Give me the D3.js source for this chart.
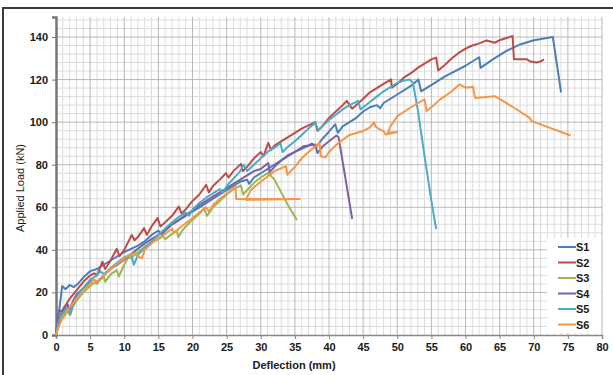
<!DOCTYPE html>
<html>
<head>
<meta charset="utf-8">
<script src="https://cdn.jsdelivr.net/npm/d3@7"></script>
<style>
  body { margin: 0; background: #fff; }
  svg { display: block; font-family: "Liberation Sans", Arial, sans-serif; }
</style>
</head>
<body>
<div id="chart"></div>
<script>
// load vs deflection readings, [deflection mm, load kN]
var s1 = [[0,0],[0.3,8],[0.6,15],[0.9,23],[1.4,21.5],[2,23.5],[2.6,22.5],[3.2,24],[4,27],[5,30],[6,31],[7,33],[8,35],[9,37],[10,39],[11,40.5],[12,42],[13,44],[14,47],[15,49],[15.5,47],[16,49],[17,52],[18,54],[19,56],[20,58],[21,60],[22,62],[23,64],[24,66],[25,68],[26,70],[27,72],[28,73],[28.3,71],[29,74],[30,76],[31,78],[32,80],[33,82],[34,84],[35,86],[36,87.5],[37,89],[37.5,90],[38,88],[39,92],[40,95.5],[40.9,99],[41.3,95],[42,98],[44,102],[45,105],[46,107],[47,108],[47.5,106.5],[48,109],[50,113],[52,117],[53.1,120],[53.5,114.5],[54.5,116.5],[57,121.5],[60,126.5],[62,130.5],[62.2,125.5],[64,129.5],[66,133.5],[68,136.5],[70,138.5],[72.8,140],[74,114]];
var s2 = [[0,0],[0.4,7],[1,12],[2,17],[3,21],[4,25],[5,28],[5.6,29],[6,28],[6.5,32],[6.8,34.5],[7.2,31],[8,35],[8.9,40.5],[9.3,37],[10,40],[11.1,47],[11.5,44.5],[12,46],[12.9,50.2],[13.3,47],[14,51],[14.9,55],[15.3,51],[16,53],[17,56],[18,60.4],[18.4,57],[19,59],[20,63],[21,66],[22,70.6],[22.4,67],[23,70],[24,73],[24.9,76],[25.3,74],[26,77],[27.1,80.4],[27.4,77],[28,79],[29,83],[30,86],[30.4,84],[31.1,90.3],[31.5,87],[32,89],[33,91],[34,93],[35,95],[36,97],[37,98.5],[38,100],[38.3,96],[39,98],[40,102],[41,105],[42,108],[42.6,110],[43.4,106.3],[44,108],[45,111],[46,114],[47,116],[48,118],[49.1,120.1],[49.2,116.2],[50,118],[51,121],[52,123],[53,125.5],[54,127.5],[55,129.5],[55.7,130.3],[56,124.3],[57,127],[58,130],[59,132.5],[60,134.5],[61,136],[62,137],[63.1,138.4],[64.3,137.3],[65,138.5],[66,139.5],[66.9,140.5],[67.1,129.5],[68,129.5],[69,129.5],[69.5,128.5],[70.4,128],[71,128.5],[71.5,129.5]];
var s3 = [[0,0],[0.3,4],[0.8,8],[1.3,10],[1.8,12],[2,9.5],[2.4,13],[3,16],[4,20],[5,23],[5.6,24.5],[6,24],[6.5,26],[7,27.5],[7.2,25],[8,28.5],[8.9,30.5],[9.2,27.5],[10,33],[10.6,36.5],[11,36],[12,39],[13,41.5],[14,43.5],[15,45],[15.7,46.5],[16,45],[17,47.5],[17.7,49],[17.9,46],[18.5,49],[19,51],[20,54],[21,57],[21.7,59.5],[22.1,56],[22.6,58],[23,60],[24,63],[25,66],[26,68.5],[27.1,70.3],[27.4,66],[28,68],[29,71.5],[30,74],[31.1,76.2],[32,73],[33,67],[34,61],[35.3,54]];
var s4 = [[0,0],[0.2,8],[0.5,11.5],[1,11],[1.4,12.5],[1.7,14.5],[2,12],[2.5,16],[3,19],[4,22],[5,25],[5.5,26],[6,25],[7,28],[8,31],[9,33],[10,35.5],[11,38],[12,40.5],[13,43],[14,45],[15,47],[16,49.5],[17,52],[18,54],[19,56.5],[20,58.5],[21,61],[22,63],[23,65],[24,67],[25,69],[26,71],[27,73],[28,75],[29,77],[30,78],[31.1,80.8],[31.3,76.5],[32,79],[33,82],[34,84.5],[35,86],[36.3,88.7],[37,89],[38,89.5],[38.3,85.5],[39.1,88.7],[40,91],[41.1,93.7],[41.4,93],[43.4,54.5]];
var s5 = [[0,0],[0.3,5],[0.7,9],[1.2,11],[1.6,13],[2.1,9.5],[2.5,14],[3,18],[4,22],[5,26],[6,28],[6.5,30],[7,28.5],[8,31.5],[9,34],[10,36.5],[11,38],[11.4,33],[12,37.5],[13,41],[14,44],[15,47],[16,50],[17,53],[18,55.5],[19,57.5],[19.5,56],[20,59],[21,62],[22,64.5],[23,66.5],[24,68.5],[24.5,67],[25,70],[26,73.5],[27,77],[27.5,80],[28,77],[29,80],[30,83],[31,86],[32,88],[32.9,90],[33.2,86],[34,88.5],[35,91],[36,94],[37,97],[38,99.7],[38.4,96],[39,98],[40,101],[41,103.5],[42,106],[43,108],[44.3,110],[44.6,106],[45,107],[46,109.5],[47,112],[48,114.5],[49,116.5],[50,118.5],[51,119.5],[51.8,120],[52.3,118.5],[53,106],[54,84],[55,63],[55.7,49.8]];
var s6 = [[0,0],[0.3,3],[0.8,7],[1.5,10],[2,13],[2.5,15],[3,17],[4,20.5],[5,24],[5.5,26],[6,25],[7,28],[8,31],[9,33.5],[10,36],[11,38],[11.6,38.5],[12,37],[12.6,36],[13,40],[14,43],[15,45.5],[16,47.5],[17,50],[17.3,48],[18,50],[19,52.5],[20,55],[21,57.5],[22,60],[22.4,58],[23,61],[24,64],[25,66.5],[26.3,69.8],[26.4,63.9],[35.7,63.9],[27.8,63.5],[28.6,68.3],[30,72],[31,74.5],[32,77],[33.7,79.3],[33.9,75.3],[35,79],[36,83],[37,86],[38.6,90.3],[38.8,84],[39.5,83.5],[40,86],[41.4,90.3],[43,94],[44.9,95.7],[46,97.5],[46.6,100],[46.8,98],[47.5,96.5],[48,95.7],[48.3,94.2],[50,95.4],[48.6,95],[49,98],[50,102.8],[52,107],[54,110.7],[54.3,105.2],[55,107],[56.3,110.7],[58,114.5],[59.1,117.7],[60,116.2],[61.1,116.6],[61.4,111.4],[64.3,112.2],[67,107],[69.4,102],[69.7,100.5],[75.4,93.7]];

var seriesNames = ["S1", "S2", "S3", "S4", "S5", "S6"];
var seriesData = [s1, s2, s3, s4, s5, s6];
var colors = ["#4a7ebb", "#be4b48", "#98b954", "#7d60a0", "#4bacc6", "#f79646"];
var xTicks = [0, 5, 10, 15, 20, 25, 30, 35, 40, 45, 50, 55, 60, 65, 70, 75, 80];
var yTicks = [0, 20, 40, 60, 80, 100, 120, 140];

var w = 613, h = 375;
var padLeft = 56, padRight = 602, padTop = 17, padBottom = 335;

var xScale = d3.scaleLinear().domain([0, 80]).range([padLeft, padRight]);
var yScale = d3.scaleLinear().domain([0, 149.4]).range([padBottom, padTop]);

var svg = d3.select("#chart").append("svg")
            .attr("width", w)
            .attr("height", h);

svg.append("rect").attr("width", w).attr("height", h).attr("fill", "#fff");

// outer frame, runs off the right and bottom edge
svg.append("rect")
   .attr("x", 3).attr("y", 8)
   .attr("width", w + 10).attr("height", h + 10)
   .attr("fill", "none")
   .attr("stroke", "#3a3a3a")
   .attr("stroke-width", 2);

// minor grid
var grid = svg.append("g");
grid.selectAll("line.vmin")
    .data(d3.range(1, 81, 1).filter(function(d) { return d % 5 != 0; }))
    .enter().append("line")
    .attr("x1", function(d) { return xScale(d); })
    .attr("x2", function(d) { return xScale(d); })
    .attr("y1", padTop).attr("y2", padBottom)
    .attr("stroke", "#dcdcdc").attr("stroke-width", 1);
grid.selectAll("line.hmin")
    .data(d3.range(4, 150, 4).filter(function(d) { return d % 20 != 0; }))
    .enter().append("line")
    .attr("y1", function(d) { return yScale(d); })
    .attr("y2", function(d) { return yScale(d); })
    .attr("x1", padLeft).attr("x2", padRight)
    .attr("stroke", "#dcdcdc").attr("stroke-width", 1);

// major grid
grid.selectAll("line.vmaj")
    .data(xTicks.slice(1))
    .enter().append("line")
    .attr("x1", function(d) { return xScale(d); })
    .attr("x2", function(d) { return xScale(d); })
    .attr("y1", padTop).attr("y2", padBottom)
    .attr("stroke", "#b8b8b8").attr("stroke-width", 1);
grid.selectAll("line.hmaj")
    .data(yTicks.slice(1))
    .enter().append("line")
    .attr("y1", function(d) { return yScale(d); })
    .attr("y2", function(d) { return yScale(d); })
    .attr("x1", padLeft).attr("x2", padRight)
    .attr("stroke", "#b8b8b8").attr("stroke-width", 1);

// axes
var xAxis = d3.axisBottom(xScale).tickValues(xTicks).tickSize(4).tickPadding(4);
var yAxis = d3.axisLeft(yScale).tickValues(yTicks).tickSize(4).tickPadding(4);

var gx = svg.append("g")
   .attr("transform", "translate(0," + padBottom + ")")
   .call(xAxis);
gx.select(".domain").attr("stroke", "#888").attr("stroke-width", 1.5);
gx.selectAll(".tick line").attr("stroke", "#888");

var gy = svg.append("g")
   .attr("transform", "translate(" + padLeft + ",0)")
   .call(yAxis);
gy.select(".domain").attr("stroke", "#777").attr("stroke-width", 2.5);
gy.selectAll(".tick line").attr("stroke", "#777");

svg.selectAll(".tick text")
   .attr("font-family", "Liberation Sans, Arial, sans-serif")
   .attr("font-size", 11)
   .attr("font-weight", "bold")
   .attr("fill", "#1a1a1a");

// series
var line = d3.line()
             .x(function(d) { return xScale(d[0]); })
             .y(function(d) { return yScale(d[1]); });

svg.selectAll("path.series")
   .data(seriesData)
   .enter().append("path")
   .attr("class", "series")
   .attr("d", line)
   .attr("fill", "none")
   .attr("stroke", function(d, i) { return colors[i]; })
   .attr("stroke-width", 2)
   .attr("stroke-linejoin", "round");

// axis titles
svg.append("text")
   .attr("x", (padLeft + padRight) / 2 - 35)
   .attr("y", 369)
   .attr("text-anchor", "middle")
   .attr("font-size", 11)
   .attr("font-weight", "bold")
   .attr("fill", "#1a1a1a")
   .text("Deflection (mm)");

svg.append("text")
   .attr("transform", "translate(24," + 188 + ") rotate(-90)")
   .attr("text-anchor", "middle")
   .attr("font-size", 11)
   .attr("fill", "#1a1a1a")
   .text("Applied Load (kN)");

// legend
var legend = svg.append("g");
legend.append("rect")
      .attr("x", 547).attr("y", 238)
      .attr("width", 54).attr("height", 95)
      .attr("fill", "#fff");

var items = legend.selectAll("g.item")
      .data(seriesNames)
      .enter().append("g")
      .attr("transform", function(d, i) { return "translate(0," + (247 + i * 15.5) + ")"; });

items.append("line")
     .attr("x1", 558).attr("x2", 576)
     .attr("stroke", function(d, i) { return colors[i]; })
     .attr("stroke-width", 2);

items.append("text")
     .attr("x", 576).attr("y", 4)
     .attr("font-size", 11)
     .attr("font-weight", "bold")
     .attr("fill", "#1a1a1a")
     .text(function(d) { return d; });
</script>
</body>
</html>
